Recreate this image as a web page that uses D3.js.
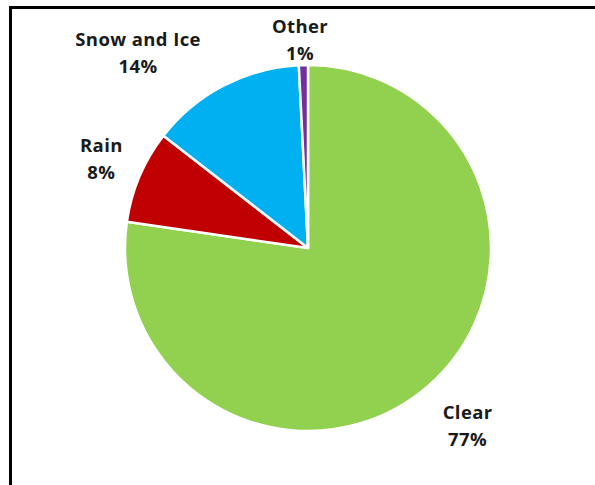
<!DOCTYPE html>
<html>
<head>
<meta charset="utf-8">
<script src="https://cdn.jsdelivr.net/npm/d3@7/dist/d3.min.js"></script>
<style>
  html, body { margin: 0; padding: 0; background: #fff; }
  svg { display: block; }
</style>
</head>
<body>
<svg id="chart" width="595" height="485"></svg>
<script>
// Data
const categories = ["Clear", "Rain", "Snow and Ice", "Other"];
const values = [77.3, 8.2, 13.7, 0.8];
const percentLabels = ["77%", "8%", "14%", "1%"];
const colors = ["#92D050", "#C00000", "#00B0F0", "#7030A0"];

// Label layout (angle in degrees clockwise from top, radius from centre)
const labelLayout = [
  { angle: 138.1, radius: 239 },
  { angle: 293.3, radius: 225 },
  { angle: 319.0, radius: 259 },
  { angle: 357.8, radius: 208 }
];

const W = 595, H = 485;
const cx = 308, cy = 248, R = 183;

const svg = d3.select("#chart");

// Frame (only left and top edges visible in the reference crop)
svg.append("rect")
  .attr("x", 10.5).attr("y", 7.5)
  .attr("width", 700).attr("height", 700)
  .attr("fill", "none")
  .attr("stroke", "#000")
  .attr("stroke-width", 3);

const data = categories.map((c, i) => ({ name: c, value: values[i], label: percentLabels[i], color: colors[i], layout: labelLayout[i] }));

const pie = d3.pie().value(d => d.value).sort(null);
const arc = d3.arc().innerRadius(0).outerRadius(R);

const g = svg.append("g").attr("transform", `translate(${cx},${cy})`);

g.selectAll("path.slice")
  .data(pie(data))
  .join("path")
  .attr("class", "slice")
  .attr("d", arc)
  .attr("fill", d => d.data.color)
  .attr("stroke", "#fff")
  .attr("stroke-width", 2.5)
  .attr("stroke-linejoin", "round");

const lineGap = 27;
const labels = g.selectAll("text.lbl")
  .data(data)
  .join("text")
  .attr("class", "lbl")
  .attr("text-anchor", "middle")
  .attr("font-family", "'Open Sans', Lato, sans-serif")
  .attr("font-weight", "bold")
  .attr("font-size", 18.5)
  .attr("letter-spacing", 0.4)
  .attr("fill", "#1a1a1a")
  .attr("transform", d => {
    const a = d.layout.angle * Math.PI / 180;
    const x = d.layout.radius * Math.sin(a);
    const y = -d.layout.radius * Math.cos(a);
    return `translate(${x},${y - 7})`;
  });

labels.append("tspan").attr("x", 0).attr("y", 0).text(d => d.name);
labels.append("tspan").attr("x", 0).attr("y", lineGap).text(d => d.label);
</script>
</body>
</html>
